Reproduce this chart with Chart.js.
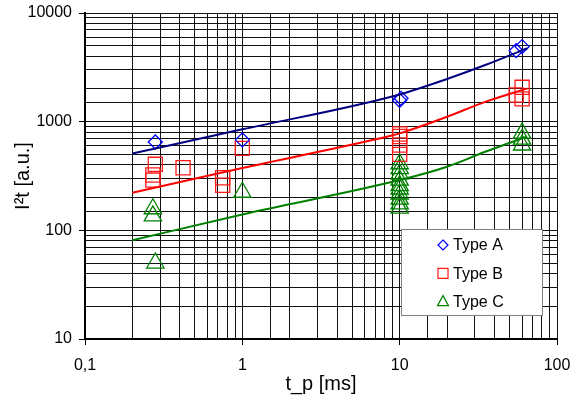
<!DOCTYPE html>
<html>
<head>
<meta charset="utf-8">
<script src="https://cdn.jsdelivr.net/npm/chart.js@4/dist/chart.umd.min.js"></script>
<style>
  html, body { margin: 0; padding: 0; background: #fff; }
</style>
</head>
<body>
<canvas id="chart" width="572" height="403"></canvas>
<script>
// measured pulses: pulse length t_p [ms] and I²t [a.u.]
var typeA_t   = [0.28, 1.0, 10, 10.2, 55, 60];
var typeA_i2t = [650, 680, 1570, 1640, 4500, 4900];

var typeB_t   = [0.27, 0.27, 0.28, 0.42, 0.75, 0.75, 1.0, 10, 10, 10, 10, 55, 60, 60];
var typeB_i2t = [323, 290, 405, 377, 305, 260, 568, 770, 730, 610, 500, 1760, 2070, 1620];

var typeC_t   = [0.27, 0.27, 0.28, 1.0, 10, 10, 10, 10, 10, 10, 10, 10, 10, 10, 60, 60, 60];
var typeC_i2t = [158, 136, 50, 224, 410, 370, 330, 290, 258, 240, 216, 194, 175, 160, 785, 690, 610];

// fitted curves
var fitA_t   = [0.2, 1, 10, 20, 35, 65];
var fitA_i2t = [510, 850, 1780, 2470, 3320, 4750];
var fitB_t   = [0.2, 1, 8.65, 10, 20, 35, 65];
var fitB_i2t = [222, 375, 738, 780, 1110, 1520, 2025];
var fitC_t   = [0.2, 1, 10, 20, 35, 64];
var fitC_i2t = [81, 140, 290, 385, 528, 726];

var xTicks = [0.1, 1, 10, 100];
var yTicks = [10, 100, 1000, 10000];

var seriesNames = ['Type A', 'Type B', 'Type C'];
var seriesColors = ['#0000ff', '#ff1a1a', '#008000'];
var seriesStyles = ['rectRot', 'rect', 'triangle'];
var fitColors = ['#000080', '#ff0000', '#008000'];

function toPoints(xs, ys) {
    var pts = [];
    for (var i = 0; i < xs.length; i++) pts.push({ x: xs[i], y: ys[i] });
    return pts;
}

function isDecade(v) {
    var l = Math.log10(v);
    return Math.abs(l - Math.round(l)) < 1e-6;
}

var FONT = "'Liberation Sans', Arial, sans-serif";

var markerData = [toPoints(typeA_t, typeA_i2t), toPoints(typeB_t, typeB_i2t), toPoints(typeC_t, typeC_i2t)];
var fitData = [toPoints(fitA_t, fitA_i2t), toPoints(fitB_t, fitB_i2t), toPoints(fitC_t, fitC_i2t)];
var markerRadius = [7, 10, 10];

var datasets = [];
for (var k = 0; k < 3; k++) {
    datasets.push({
        label: 'fit ' + seriesNames[k],
        data: fitData[k],
        showLine: true,
        borderColor: fitColors[k],
        borderWidth: 2,
        pointRadius: 0,
        cubicInterpolationMode: 'monotone',
        fill: false
    });
}
for (var k = 0; k < 3; k++) {
    datasets.push({
        label: seriesNames[k],
        data: markerData[k],
        showLine: false,
        pointStyle: seriesStyles[k],
        pointRadius: markerRadius[k],
        pointBorderWidth: 1.3,
        pointBorderColor: seriesColors[k],
        pointBackgroundColor: 'rgba(0,0,0,0)'
    });
}

// small framed legend inside the plot, lower right
var boxLegend = {
    id: 'boxLegend',
    afterDraw: function (chart) {
        var ctx = chart.ctx, area = chart.chartArea;
        var bx = area.right - 156, by = area.bottom - 110, bw = 141, bh = 86;
        ctx.save();
        ctx.fillStyle = '#fff';
        ctx.fillRect(bx, by, bw, bh);
        ctx.strokeStyle = '#808080';
        ctx.lineWidth = 1;
        ctx.strokeRect(bx + 0.5, by + 0.5, bw, bh);
        ctx.font = '16px ' + FONT;
        ctx.textBaseline = 'middle';
        ctx.fillStyle = '#000';
        for (var i = 0; i < 3; i++) {
            var cx = bx + 42, cy = by + 16 + i * 28.3;
            ctx.strokeStyle = seriesColors[i];
            ctx.lineWidth = 1.2;
            ctx.beginPath();
            if (i === 0) {
                ctx.moveTo(cx, cy - 5); ctx.lineTo(cx + 5, cy); ctx.lineTo(cx, cy + 5); ctx.lineTo(cx - 5, cy);
            } else if (i === 1) {
                ctx.rect(cx - 5, cy - 5, 10, 10);
            } else {
                ctx.moveTo(cx, cy - 6); ctx.lineTo(cx + 5.5, cy + 4); ctx.lineTo(cx - 5.5, cy + 4);
            }
            ctx.closePath();
            ctx.stroke();
            ctx.fillText(seriesNames[i], cx + 10, cy + 1);
        }
        ctx.restore();
    }
};

function gridTickColor(ctx) {
    return ctx.tick && isDecade(ctx.tick.value) ? '#000' : 'rgba(0,0,0,0)';
}

var chart = new Chart(document.getElementById('chart'), {
    type: 'scatter',
    data: { datasets: datasets },
    plugins: [boxLegend],
    options: {
        responsive: false,
        animation: false,
        layout: { padding: { left: 0, top: 13, right: 15, bottom: 0 } },
        plugins: {
            legend: { display: false },
            tooltip: { enabled: false }
        },
        scales: {
            x: {
                type: 'logarithmic',
                min: xTicks[0],
                max: xTicks[xTicks.length - 1],
                afterFit: function (scale) {
                    scale.height = 64;
                    scale.paddingLeft = 0;
                    scale.paddingRight = 0;
                },
                border: { color: '#000', width: 2 },
                grid: { color: '#111', lineWidth: 1, tickLength: 6, tickColor: gridTickColor },
                ticks: {
                    autoSkip: false,
                    maxRotation: 0,
                    padding: 11,
                    color: '#000',
                    font: { family: FONT, size: 16 },
                    callback: function (v) {
                        if (!isDecade(v)) return '';
                        var d = xTicks.find(function (t) { return Math.abs(Math.log10(t) - Math.log10(v)) < 1e-6; });
                        return String(d).replace('.', ',');
                    }
                },
                title: {
                    display: true,
                    text: 't_p [ms]',
                    color: '#000',
                    font: { family: FONT, size: 20 },
                    padding: { top: 0, bottom: 7 }
                }
            },
            y: {
                type: 'logarithmic',
                min: yTicks[0],
                max: yTicks[yTicks.length - 1],
                afterFit: function (scale) {
                    scale.width = 85;
                    scale.paddingTop = 0;
                    scale.paddingBottom = 0;
                },
                border: { color: '#000', width: 2 },
                grid: { color: '#111', lineWidth: 1, tickLength: 6, tickColor: gridTickColor },
                ticks: {
                    autoSkip: false,
                    padding: 7,
                    color: '#000',
                    font: { family: FONT, size: 16 },
                    callback: function (v) {
                        if (!isDecade(v)) return '';
                        var d = yTicks.find(function (t) { return Math.abs(Math.log10(t) - Math.log10(v)) < 1e-6; });
                        return String(d);
                    }
                },
                title: {
                    display: true,
                    text: 'I²t [a.u.]',
                    color: '#000',
                    font: { family: FONT, size: 20 },
                    padding: { top: 11, bottom: 0 }
                }
            }
        }
    }
});
</script>
</body>
</html>
